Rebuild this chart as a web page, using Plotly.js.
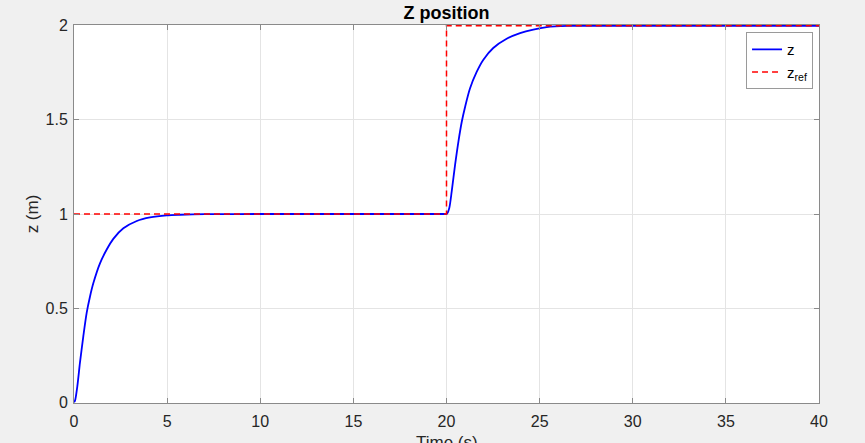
<!DOCTYPE html>
<html>
<head>
<meta charset="utf-8">
<script src="https://cdn.plot.ly/plotly-3.0.1.min.js"></script>
<style>html,body{margin:0;padding:0;background:#f0f0f0;}#chart{width:865px;height:443px;}</style>
</head>
<body>
<div id="chart"></div>
<script>
const timeZ = [0, 0.05, 0.18, 0.32, 0.5, 0.68, 0.86, 1.04, 1.4, 1.75, 2.11, 2.65, 3.37, 4.08, 4.98, 5.69, 7, 10, 15, 19.9, 20, 20.04, 20.15, 20.28, 20.46, 20.64, 20.82, 21.0, 21.26, 21.62, 21.98, 22.51, 23.23, 23.95, 24.66, 25.38, 26.5, 30, 35, 40];
const zValues = [0, 0.007, 0.086, 0.21, 0.35, 0.475, 0.562, 0.633, 0.739, 0.81, 0.868, 0.924, 0.963, 0.982, 0.993, 0.996, 0.999, 1, 1, 1, 1, 1.003, 1.032, 1.12, 1.261, 1.385, 1.49, 1.57, 1.667, 1.755, 1.82, 1.882, 1.931, 1.961, 1.98, 1.993, 1.999, 2, 2, 2];
const timeRef = [0, 20, 20, 40];
const zRefValues = [1, 1, 2, 2];
const xTicks = [0, 5, 10, 15, 20, 25, 30, 35, 40];
const yTicks = [0, 0.5, 1, 1.5, 2];
const yTickText = ['0', '0.5', '1', '1.5', '2'];

const font = 'Liberation Sans, Arial, sans-serif';
const traces = [
  {x: timeZ, y: zValues, mode: 'lines', name: 'z', line: {color: '#0000ff', width: 1.8, shape: 'spline', smoothing: 0.8}},
  {x: timeRef, y: zRefValues, mode: 'lines', name: 'z<sub>ref</sub>', line: {color: '#ff0000', width: 1.5, dash: '6px,4px'}}
];
const axisCommon = {
  showline: true, linecolor: '#8a8a8a', linewidth: 1, mirror: 'ticks',
  ticks: 'inside', ticklen: 5, tickcolor: '#8a8a8a', tickwidth: 1,
  showgrid: true, gridcolor: '#e4e4e4', gridwidth: 1, zeroline: false,
  tickfont: {family: font, size: 16, color: '#262626'}
};
const layout = {
  width: 865, height: 443,
  paper_bgcolor: '#f0f0f0', plot_bgcolor: '#ffffff',
  margin: {l: 74, r: 46, t: 25, b: 40},
  title: {text: '<b>Z position</b>', font: {family: font, size: 18, color: '#000000'}, x: 0.5161, xanchor: 'center', y: 0.972, yanchor: 'middle'},
  xaxis: Object.assign({}, axisCommon, {range: [0, 40], tickvals: xTicks, ticklabelstandoff: 4}),
  yaxis: Object.assign({}, axisCommon, {range: [-0.004, 2.004], tickvals: yTicks, ticktext: yTickText, ticklabelstandoff: 2,
    title: {text: 'z (m)', font: {family: font, size: 17, color: '#262626'}, standoff: 2}}),
  annotations: [{text: 'Time (s)', xref: 'paper', yref: 'paper', x: 0.5, y: -0.076, xanchor: 'center', yanchor: 'top',
    showarrow: false, borderpad: 0, font: {family: font, size: 17, color: '#262626'}}],
  legend: {x: 0.992, xanchor: 'right', y: 0.981, yanchor: 'top', bgcolor: '#ffffff', bordercolor: '#9a9a9a', borderwidth: 1,
    font: {family: font, size: 15, color: '#000000'}, itemwidth: 30, tracegroupgap: 0},
  showlegend: true
};
Plotly.newPlot('chart', traces, layout, {displayModeBar: false, staticPlot: true});
</script>
</body>
</html>
